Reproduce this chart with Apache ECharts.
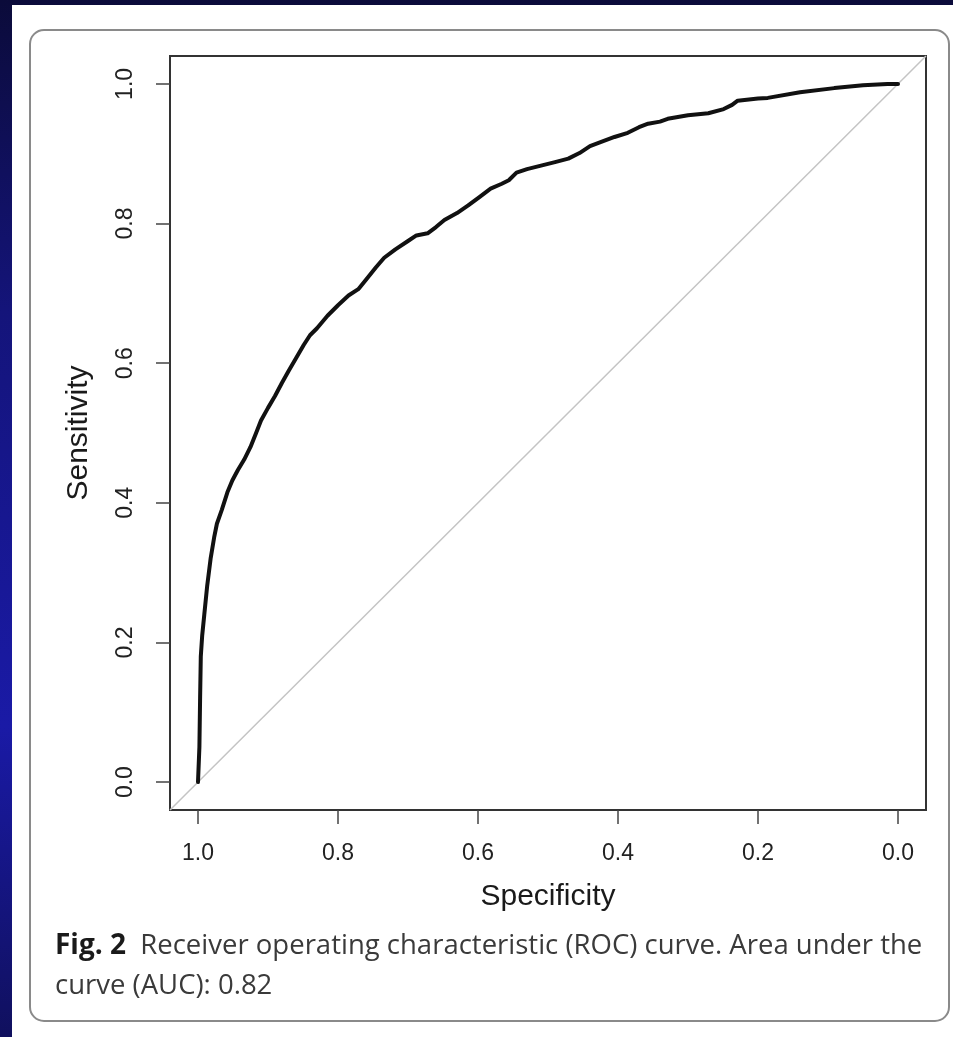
<!DOCTYPE html>
<html>
<head>
<meta charset="utf-8">
<script src="https://cdn.jsdelivr.net/npm/echarts@6/dist/echarts.min.js"></script>
<style>
  html, body { margin: 0; padding: 0; width: 953px; height: 1037px; overflow: hidden; }
  body { background: linear-gradient(180deg, #0b0b3a 0%, #14147a 30%, #1a1aa6 70%, #10105e 100%); position: relative; }
  #paper { position: absolute; left: 12px; top: 5px; right: 0; bottom: 0; background: #ffffff; }
  #chart { position: absolute; left: 0; top: 0; width: 953px; height: 1037px; }
</style>
</head>
<body>
<div id="paper"></div>
<div id="chart"></div>
<script>
// ROC curve: specificity (x, reversed axis) vs sensitivity (y)
const specificity = [1.000, 0.998, 0.997, 0.996, 0.994, 0.991, 0.987, 0.982, 0.977, 0.973,
  0.966, 0.958, 0.951, 0.943, 0.934, 0.925, 0.917, 0.910, 0.900, 0.890,
  0.880, 0.870, 0.860, 0.849, 0.840, 0.830, 0.815, 0.800, 0.785, 0.771,
  0.758, 0.746, 0.734, 0.718, 0.700, 0.688, 0.672, 0.660, 0.648, 0.630,
  0.614, 0.598, 0.582, 0.566, 0.556, 0.545, 0.530, 0.510, 0.490, 0.471,
  0.455, 0.440, 0.424, 0.405, 0.386, 0.370, 0.357, 0.340, 0.329, 0.300,
  0.271, 0.249, 0.237, 0.229, 0.200, 0.186, 0.140, 0.091, 0.050, 0.015, 0.000];
const sensitivity = [0.000, 0.050, 0.120, 0.180, 0.210, 0.240, 0.280, 0.320, 0.350, 0.370,
  0.390, 0.415, 0.432, 0.447, 0.462, 0.480, 0.500, 0.518, 0.536, 0.553,
  0.572, 0.590, 0.607, 0.626, 0.640, 0.650, 0.668, 0.683, 0.697, 0.706,
  0.722, 0.737, 0.751, 0.763, 0.775, 0.783, 0.786, 0.795, 0.805, 0.815,
  0.826, 0.838, 0.850, 0.857, 0.862, 0.873, 0.878, 0.883, 0.888, 0.893,
  0.901, 0.911, 0.917, 0.924, 0.930, 0.938, 0.943, 0.946, 0.950, 0.955,
  0.958, 0.964, 0.970, 0.976, 0.979, 0.980, 0.988, 0.994, 0.998, 1.000, 1.000];
// chance diagonal (sensitivity = 1 - specificity), spanning the plot region
const diagSpec = [1.04, -0.04];
const diagSens = [-0.04, 1.04];
const tickValues = [0, 0.2, 0.4, 0.6, 0.8, 1.0];
const xTitle = 'Specificity';
const yTitle = 'Sensitivity';
const captionBold = 'Fig. 2';
const captionLine1 = 'Receiver operating characteristic (ROC) curve. Area under the';
const captionLine2 = 'curve (AUC): 0.82';

const chart = echarts.init(document.getElementById('chart'), null, { renderer: 'canvas' });
const tickStyle = { color: '#444', width: 1.5 };
const labelFont = { fontFamily: 'Liberation Sans, Arial, sans-serif', fontSize: 23, color: '#222' };
const titleFont = { fontFamily: 'Liberation Sans, Arial, sans-serif', fontSize: 30, color: '#1a1a1a' };

chart.setOption({
  backgroundColor: 'transparent',
  animation: false,
  graphic: [{
    type: 'rect', left: 29, top: 29, z: -1,
    shape: { width: 919, height: 991, r: 14 },
    style: { fill: '#fff', stroke: '#8a8a8a', lineWidth: 2 }
  }],
  title: {
    left: 50, top: 921,
    text: '{b|' + captionBold + '}{n|  ' + captionLine1 + '}\n{n|' + captionLine2 + '}',
    textStyle: {
      fontWeight: 'normal',
      rich: {
        b: { fontFamily: 'Open Sans, sans-serif', fontWeight: 'bold', fontSize: 28, color: '#1a1a1a', lineHeight: 40 },
        n: { fontFamily: 'Open Sans, sans-serif', fontWeight: 'normal', fontSize: 27.5, color: '#3a3a3a', lineHeight: 40 }
      }
    }
  },
  grid: {
    left: 170, top: 56, width: 756, height: 754,
    show: true, borderColor: '#333', borderWidth: 2, backgroundColor: 'transparent'
  },
  xAxis: {
    type: 'value', inverse: true, min: -0.04, max: 1.04,
    name: xTitle, nameLocation: 'middle', nameGap: 72,
    nameTextStyle: titleFont,
    axisLine: { show: false, onZero: false },
    axisTick: { show: true, inside: false, length: 14, lineStyle: tickStyle, customValues: tickValues },
    axisLabel: Object.assign({ margin: 32, customValues: tickValues, formatter: v => v.toFixed(1) }, labelFont),
    splitLine: { show: false }
  },
  yAxis: {
    type: 'value', min: -0.04, max: 1.04,
    name: yTitle, nameLocation: 'middle', nameGap: 76,
    nameTextStyle: titleFont,
    axisLine: { show: false, onZero: false },
    axisTick: { show: true, inside: false, length: 14, lineStyle: tickStyle, customValues: tickValues },
    axisLabel: Object.assign({ margin: 33, rotate: 90, customValues: tickValues, formatter: v => v.toFixed(1) }, labelFont),
    splitLine: { show: false }
  },
  series: [
    {
      type: 'line', data: diagSpec.map((s, i) => [s, diagSens[i]]),
      symbol: 'none', lineStyle: { color: '#c4c4c4', width: 1.5 }, z: 1, silent: true
    },
    {
      type: 'line', data: specificity.map((s, i) => [s, sensitivity[i]]),
      symbol: 'none', lineStyle: { color: '#111', width: 4, cap: 'round', join: 'round' }, z: 2
    }
  ]
});
</script>
</body>
</html>
